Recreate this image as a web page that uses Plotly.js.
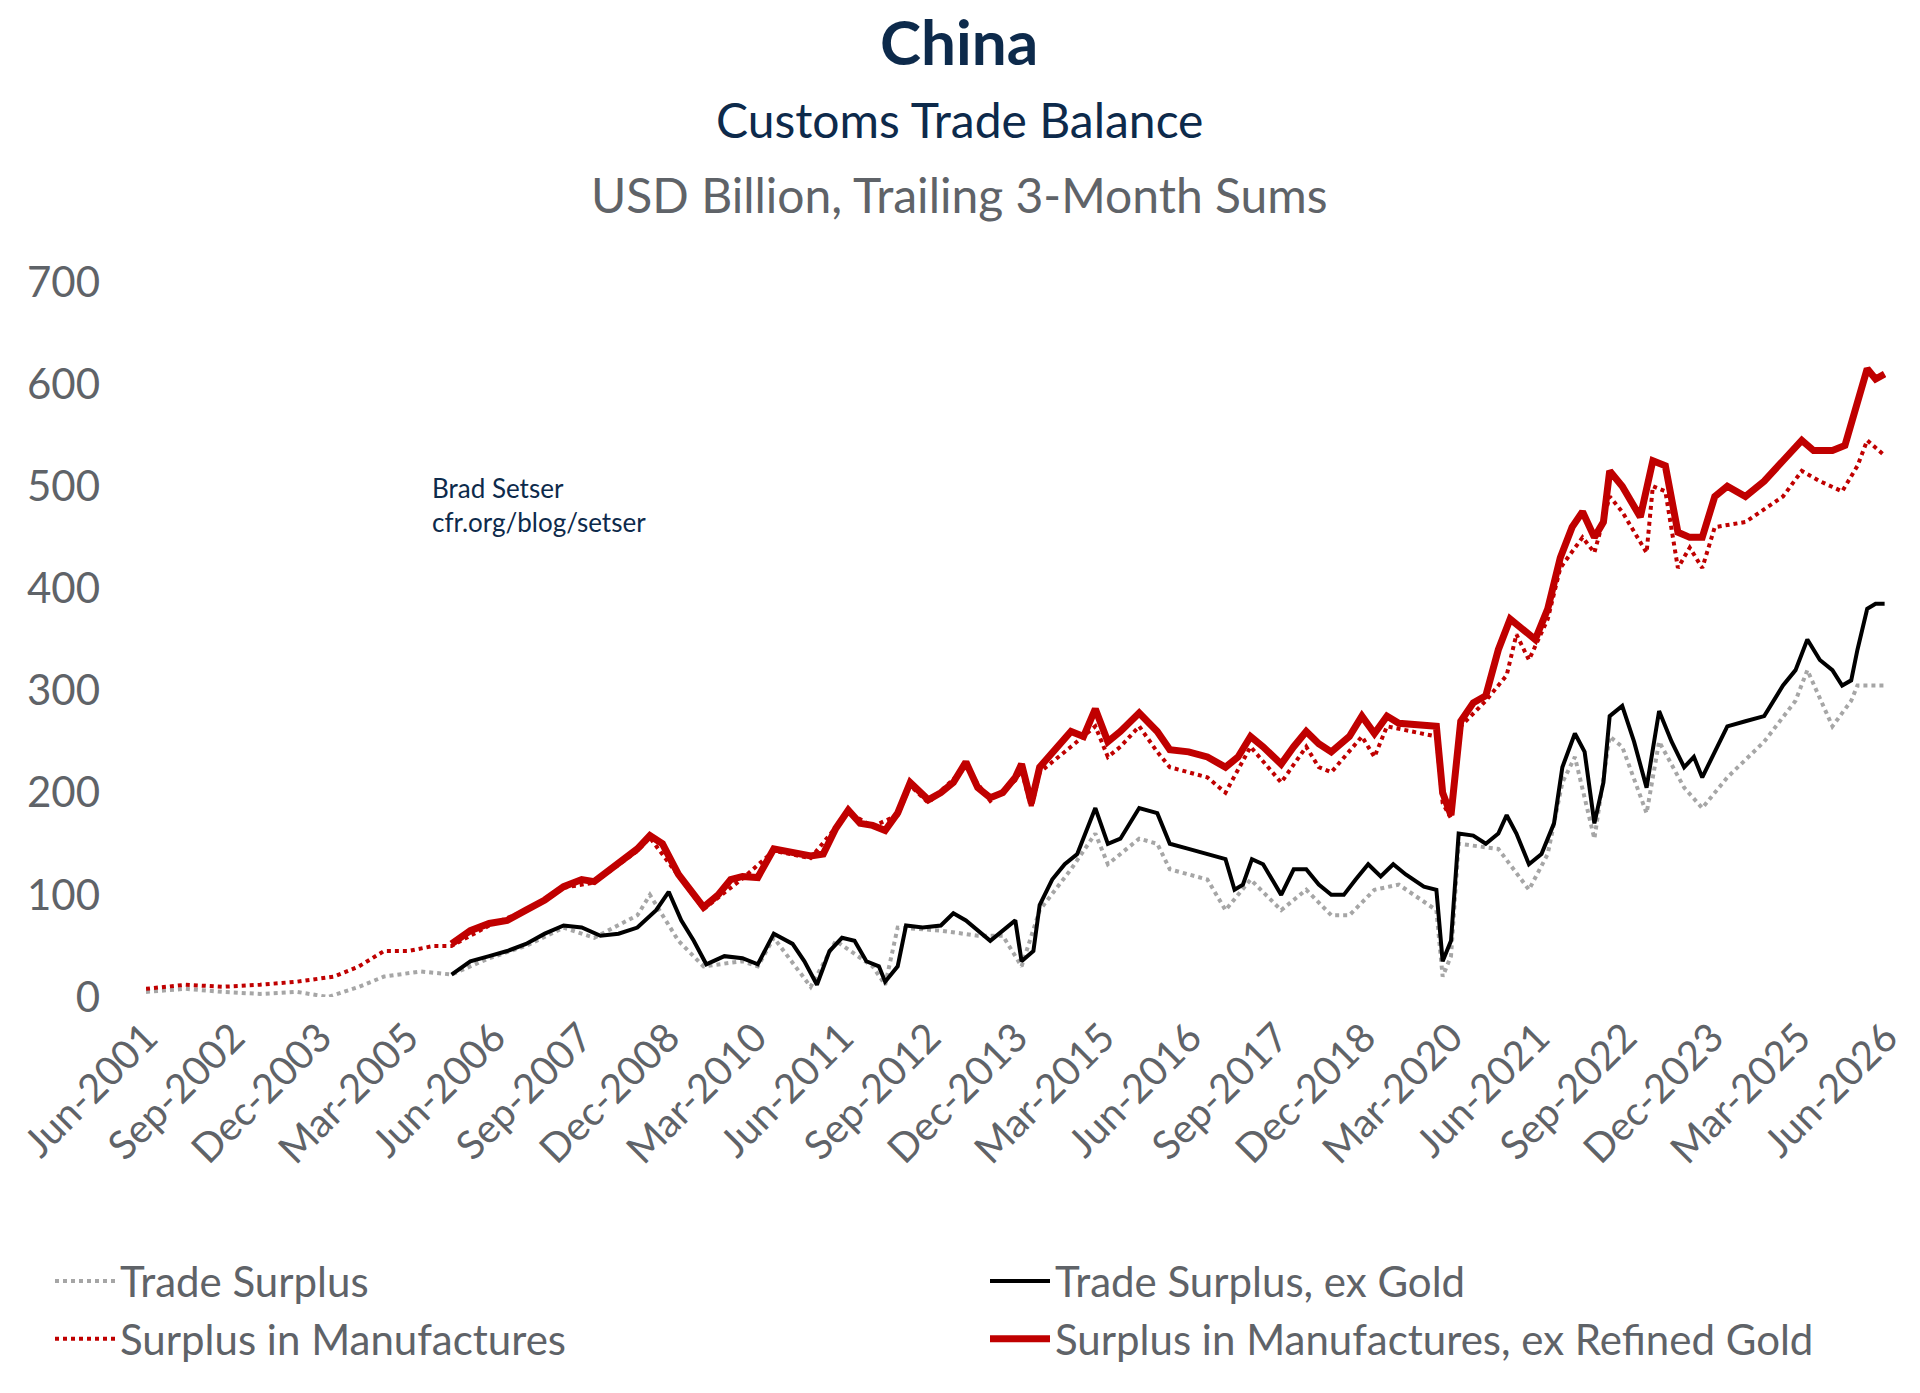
<!DOCTYPE html>
<html><head><meta charset="utf-8">
<script src="https://cdn.plot.ly/plotly-3.0.1.min.js"></script>
<style>body{margin:0;background:#fff}#chart{width:1920px;height:1393px}</style>
</head><body><div id="chart"></div>
<script>
// x values are decimal years
const tickLabels = ['Jun-2001','Sep-2002','Dec-2003','Mar-2005','Jun-2006','Sep-2007','Dec-2008','Mar-2010','Jun-2011','Sep-2012','Dec-2013','Mar-2015','Jun-2016','Sep-2017','Dec-2018','Mar-2020','Jun-2021','Sep-2022','Dec-2023','Mar-2025','Jun-2026'];

const tradeX = [2001.42,2001.99,2002.52,2003.06,2003.59,2004.04,2004.48,2004.84,2005.37,2005.81,2006.35,2006.88,2007.42,2007.86,2008.48,2008.66,2009.07,2009.43,2009.99,2010.21,2010.44,2010.97,2011.33,2011.86,2012.04,2012.22,2012.84,2013.37,2013.73,2014.00,2014.26,2014.71,2015.06,2015.24,2015.69,2015.95,2016.13,2016.67,2016.93,2017.29,2017.73,2018.09,2018.45,2018.71,2019.07,2019.42,2019.96,2020.05,2020.17,2020.28,2020.85,2021.29,2021.56,2021.77,2021.95,2022.23,2022.45,2022.63,2022.98,2023.16,2023.52,2023.78,2024.14,2024.67,2025.12,2025.29,2025.65,2025.92,2026.01,2026.40];
const tradeY = [5,8,5,3,5,0,10,20,25,22,38,50,68,58,80,100,55,30,35,30,58,10,55,30,12,68,65,60,60,30,85,125,160,130,155,150,125,115,85,115,85,105,80,80,105,110,85,20,40,150,145,105,140,210,235,155,255,245,180,250,205,185,215,250,290,320,265,290,305,305];

const exGoldX = [2005.81,2006.08,2006.35,2006.61,2006.88,2007.15,2007.42,2007.68,2007.95,2008.21,2008.48,2008.75,2008.93,2009.11,2009.29,2009.47,2009.73,2009.99,2010.21,2010.44,2010.71,2010.88,2011.06,2011.24,2011.42,2011.60,2011.77,2011.95,2012.04,2012.22,2012.34,2012.58,2012.84,2013.02,2013.20,2013.37,2013.55,2013.73,2013.91,2014.00,2014.17,2014.26,2014.44,2014.62,2014.80,2015.06,2015.24,2015.42,2015.69,2015.95,2016.13,2016.40,2016.67,2016.93,2017.06,2017.18,2017.31,2017.47,2017.73,2017.91,2018.09,2018.27,2018.45,2018.63,2018.80,2018.98,2019.16,2019.34,2019.52,2019.78,2019.96,2020.05,2020.17,2020.28,2020.49,2020.67,2020.85,2020.97,2021.11,2021.29,2021.47,2021.65,2021.77,2021.95,2022.09,2022.23,2022.36,2022.45,2022.63,2022.80,2022.98,2023.16,2023.34,2023.52,2023.66,2023.78,2023.96,2024.14,2024.40,2024.67,2024.94,2025.12,2025.29,2025.47,2025.65,2025.79,2025.92,2026.01,2026.15,2026.27,2026.40];
const exGoldY = [22,35,40,45,52,62,70,68,60,62,68,85,103,75,55,32,40,38,32,62,52,35,12,45,58,55,35,30,15,30,70,68,70,82,75,65,55,65,75,35,45,90,115,130,140,185,150,155,185,180,150,145,140,135,105,110,135,130,100,125,125,110,100,100,115,130,118,130,120,108,105,35,55,160,158,150,160,178,160,130,140,170,225,258,240,170,210,275,285,250,205,280,250,225,235,215,240,265,270,275,305,320,350,330,320,305,310,340,380,385,385];

const manufX = [2001.42,2001.99,2002.52,2003.06,2003.59,2004.12,2004.48,2004.84,2005.19,2005.55,2005.81,2006.35,2006.88,2007.42,2007.86,2008.48,2008.66,2009.07,2009.43,2009.99,2010.44,2010.97,2011.51,2011.86,2012.22,2012.40,2012.66,2013.20,2013.55,2013.91,2014.00,2014.14,2014.26,2014.71,2015.06,2015.24,2015.42,2015.69,2015.95,2016.13,2016.67,2016.93,2017.29,2017.73,2018.09,2018.27,2018.45,2018.89,2019.07,2019.25,2019.96,2020.05,2020.17,2020.31,2020.67,2020.97,2021.11,2021.29,2021.56,2021.74,2022.06,2022.23,2022.45,2022.63,2022.98,2023.07,2023.25,2023.43,2023.60,2023.78,2023.96,2024.40,2024.94,2025.21,2025.47,2025.79,2026.01,2026.15,2026.40];
const manufY = [8,12,10,12,15,20,30,45,45,50,50,70,85,107,112,143,156,118,86,116,143,136,181,167,178,207,190,225,192,212,222,185,220,245,265,235,245,265,240,225,215,200,245,210,245,225,220,255,235,265,255,190,175,265,290,315,355,330,370,420,450,435,490,475,435,500,495,420,440,420,460,465,490,515,505,495,520,545,530];

const manufExGoldX = [2005.81,2006.08,2006.35,2006.61,2006.88,2007.15,2007.42,2007.68,2007.86,2008.04,2008.30,2008.48,2008.66,2008.84,2009.07,2009.25,2009.43,2009.64,2009.82,2009.99,2010.21,2010.44,2010.71,2010.97,2011.15,2011.33,2011.51,2011.68,2011.86,2012.04,2012.22,2012.40,2012.66,2012.84,2013.02,2013.20,2013.37,2013.55,2013.73,2013.91,2014.00,2014.14,2014.26,2014.53,2014.71,2014.89,2015.06,2015.24,2015.42,2015.69,2015.95,2016.13,2016.40,2016.67,2016.93,2017.11,2017.29,2017.47,2017.73,2017.91,2018.09,2018.27,2018.45,2018.71,2018.89,2019.07,2019.25,2019.42,2019.78,2019.96,2020.05,2020.17,2020.31,2020.49,2020.67,2020.85,2021.02,2021.20,2021.38,2021.56,2021.74,2021.91,2022.06,2022.23,2022.36,2022.45,2022.63,2022.89,2023.07,2023.25,2023.43,2023.60,2023.78,2023.96,2024.14,2024.40,2024.67,2024.94,2025.21,2025.38,2025.65,2025.83,2026.01,2026.15,2026.27,2026.40];
const manufExGoldY = [52,65,72,75,85,95,108,115,113,122,135,145,158,150,120,105,88,100,115,118,117,145,142,138,140,165,183,170,168,163,180,210,193,200,210,230,205,195,200,215,228,190,225,245,260,255,282,250,260,278,260,242,240,235,225,235,255,245,228,245,260,248,240,255,275,258,275,268,265,265,200,178,270,288,295,340,370,360,350,380,430,460,475,450,465,515,500,470,525,520,455,450,450,490,500,490,505,525,545,535,535,540,585,615,605,610];

const titleNavy = '#0d2a4b', grey = '#5f6368';
const font = 'Lato, "Open Sans", sans-serif';

const traces = [
  {x: tradeX, y: tradeY, name: 'Trade Surplus', mode: 'lines', line: {color: '#a6a6a6', width: 4, dash: 'dot'}},
  {x: exGoldX, y: exGoldY, name: 'Trade Surplus, ex Gold', mode: 'lines', line: {color: '#000', width: 4}},
  {x: manufX, y: manufY, name: 'Surplus in Manufactures', mode: 'lines', line: {color: '#c00000', width: 4, dash: 'dot'}},
  {x: manufExGoldX, y: manufExGoldY, name: 'Surplus in Manufactures, ex Refined Gold', mode: 'lines', line: {color: '#c00000', width: 7}}
];

const layout = {
  width: 1920, height: 1393,
  margin: {l: 146, r: 34, t: 282, b: 396},
  paper_bgcolor: '#fff', plot_bgcolor: '#fff',
  font: {family: font, color: grey},
  showlegend: true,
  legend: {orientation: 'h', x: -0.03, y: -0.35, xanchor: 'left', yanchor: 'top',
    entrywidth: 860, entrywidthmode: 'pixels', font: {size: 42, color: grey}, traceorder: 'normal',
    itemwidth: 60},
  xaxis: {range: [2001.42, 2026.42], tickvals: tickLabels.map((_, i) => 2001.42 + 1.25 * i), ticktext: tickLabels,
    tickangle: -45, tickfont: {size: 40, color: grey}, showgrid: false, zeroline: false, showline: false, ticks: '',
    ticklabelstandoff: 8},
  yaxis: {range: [0, 700], dtick: 100, tickfont: {size: 42, color: grey}, showgrid: false, zeroline: false,
    ticks: '', ticklabelstandoff: 45},
  annotations: [
    {text: '<b>China</b>', xref: 'paper', yref: 'paper', x: 0.5, y: (997 - 41) / 715, showarrow: false, font: {size: 62, color: titleNavy}, yanchor: 'middle', xshift: -57},
    {text: 'Customs Trade Balance', xref: 'paper', yref: 'paper', x: 0.5, y: (997 - 119) / 715, showarrow: false, font: {size: 48, color: titleNavy}, yanchor: 'middle', xshift: -57},
    {text: 'USD Billion, Trailing 3-Month Sums', xref: 'paper', yref: 'paper', x: 0.5, y: (997 - 194) / 715, showarrow: false, font: {size: 48, color: grey}, yanchor: 'middle', xshift: -57},
    {text: 'Brad Setser<br>cfr.org/blog/setser', xref: 'paper', yref: 'paper', x: (430 - 146) / 1740, y: (997 - 470) / 715, xanchor: 'left', yanchor: 'top', align: 'left', showarrow: false, font: {size: 26, color: titleNavy}}
  ]
};

Plotly.newPlot('chart', traces, layout, {displayModeBar: false});
</script>
</body></html>
